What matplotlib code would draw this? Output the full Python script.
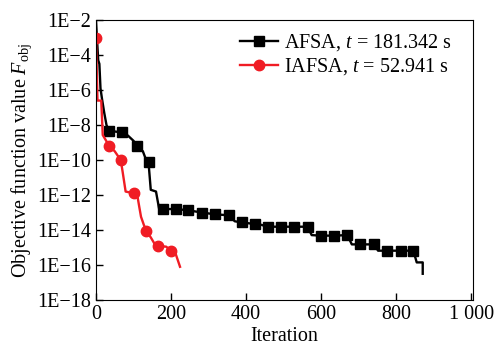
import numpy as np
import matplotlib
matplotlib.use('Agg')
from matplotlib import pyplot as plt

plt.rcParams['font.family'] = ['Liberation Serif', 'DejaVu Serif']
plt.rcParams['mathtext.fontset'] = 'custom'
plt.rcParams['mathtext.it'] = 'Liberation Serif:italic'
plt.rcParams['mathtext.rm'] = 'Liberation Serif'

# AFSA curve: iteration, log10(F_obj)
afsa_iter = [0, 3, 6, 9, 12, 16, 22, 28, 35, 70, 85, 100, 108, 125, 132, 140,
             146, 160, 168, 178, 212, 246, 282, 317, 355, 370, 388, 424, 440,
             458, 493, 528, 564, 575, 599, 635, 670, 682, 704, 741, 752, 775,
             812, 846, 855, 871, 871]
afsa_log = [-2.0, -3.2, -4.3, -4.5, -5.9, -6.5, -7.3, -8.0, -8.33, -8.42, -8.6,
            -8.9, -9.18, -9.5, -9.9, -10.13, -11.7, -11.8, -12.76, -12.8, -12.8,
            -12.87, -13.0, -13.1, -13.16, -13.5, -13.56, -13.66, -13.7, -13.81,
            -13.81, -13.81, -13.81, -14.29, -14.32, -14.32, -14.29, -14.82,
            -14.82, -14.82, -15.18, -15.18, -15.18, -15.18, -15.85, -15.85, -16.5]
afsa_marks = [8, 9, 12, 15, 19, 20, 21, 22, 23, 24, 26, 27, 29, 30, 31, 32,
              34, 35, 36, 38, 39, 41, 42, 43]

# IAFSA curve
iafsa_iter = [0, 4, 14, 18, 35, 50, 66, 71, 79, 101, 110, 115, 120, 133, 146,
              157, 164.5, 187, 200, 211, 224]
iafsa_log = [-3.0, -6.6, -6.6, -8.57, -9.18, -9.5, -10.0, -10.67, -11.8, -11.9,
             -12.0, -12.63, -13.24, -14.04, -14.42, -14.82, -14.91, -14.95,
             -15.18, -15.27, -16.1]
iafsa_marks = [0, 4, 6, 9, 13, 16, 18]

ytick_pows = [-2, -4, -6, -8, -10, -12, -14, -16, -18]
xticks = [0, 200, 400, 600, 800, 1000]
xtick_labels = ['0', '200', '400', '600', '800', '1 000']

fig = plt.figure(figsize=(5.01, 3.59), dpi=100)
ax = fig.add_axes([0.1916, 0.1643, 0.7525, 0.7797])

ax.plot(afsa_iter, 10.0 ** np.array(afsa_log), color='black', lw=1.7,
        marker='s', ms=7.5, markevery=afsa_marks,
        label='AFSA, $t$ = 181.342 s')
ax.plot(iafsa_iter, 10.0 ** np.array(iafsa_log), color='#f01c24', lw=1.7,
        marker='o', ms=7.5, markevery=iafsa_marks,
        label='IAFSA, $t$ = 52.941 s')

ax.set_yscale('log')
ax.set_ylim(1e-18, 1e-2)
ax.set_xlim(0, 1005)
ax.set_yticks([10.0 ** p for p in ytick_pows])
ax.set_yticklabels(['1E\u2212%d' % (-p) for p in ytick_pows])
ax.yaxis.set_minor_locator(matplotlib.ticker.NullLocator())
ax.set_xticks(xticks)
ax.set_xticklabels(xtick_labels)
ax.tick_params(direction='in', labelsize=14.5, length=5, width=1)

ax.set_xlabel('Iteration', fontsize=14.5, labelpad=2)
ax.set_ylabel('Objective function value $F_{\\rm obj}$', fontsize=14.5, labelpad=2)

ax.legend(loc='upper left', bbox_to_anchor=(0.36, 0.985), frameon=False,
          fontsize=14.5, handlelength=1.9, handletextpad=0.3, labelspacing=0.15,
          borderaxespad=0)

fig.savefig('out.png', dpi=100)
